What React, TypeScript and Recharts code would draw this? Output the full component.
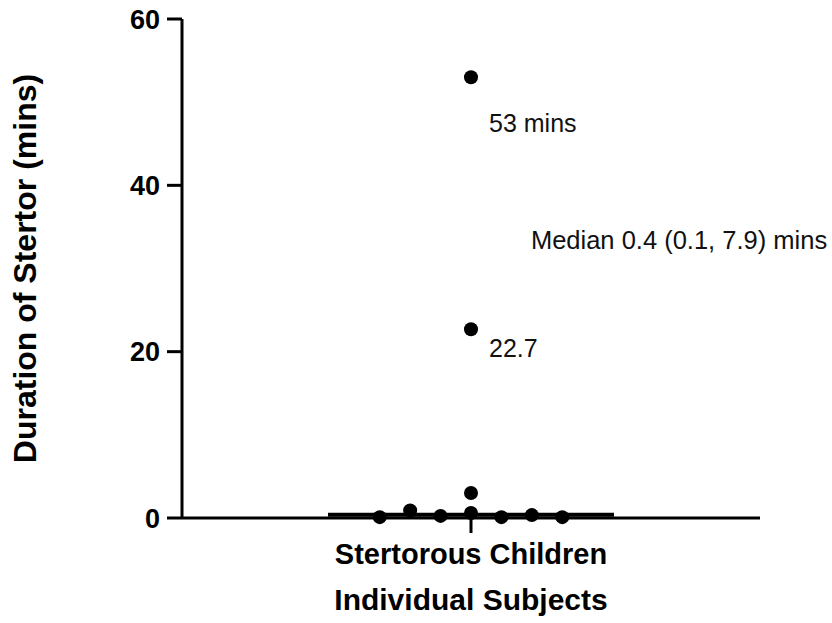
import {
  ScatterChart,
  Scatter,
  XAxis,
  YAxis,
  ReferenceLine,
  ReferenceDot,
  Label,
  LabelList,
} from "recharts";

// jitter offsets of each child along the x axis (category centre = 0)
const jitter = [-3, -2, -1, 0, 1, 2, 3, 0, 0, 0];
const durations = [0.1, 0.9, 0.25, 0.6, 0.1, 0.35, 0.1, 3.0, 22.7, 53];
const pointNotes = ["", "", "", "", "", "", "", "", "22.7", "53 mins"];
const yTicks = [0, 20, 40, 60];
const median = 0.4;
const medianText = "Median 0.4 (0.1, 7.9) mins";
const category = "Stertorous Children";

const data = durations.map((y, i) => ({ x: jitter[i], y, note: pointNotes[i] }));

const FONT = "'Liberation Sans', Arial, sans-serif";

const Dot = (p: any) => <circle cx={p.cx} cy={p.cy} r={7} fill="#000" />;

const NoteLabel = (p: any) => {
  if (!p.value) return null;
  const big = p.value.includes("mins");
  return (
    <text
      x={p.x + p.width / 2 + 18}
      y={p.y + p.height / 2 + (big ? 55 : 28)}
      fontSize={25}
      fontFamily={FONT}
      fill="#111"
    >
      {p.value}
    </text>
  );
};

export default function App() {
  return (
    <div style={{ position: "absolute", left: 0, top: 0, background: "#fff" }}>
      <ScatterChart
        width={832}
        height={623}
        margin={{ top: 19, right: 72, bottom: 0, left: 0 }}
      >
        <XAxis
          type="number"
          dataKey="x"
          domain={[-9.5, 9.5]}
          ticks={[0]}
          tickFormatter={() => category}
          tickSize={15}
          tickMargin={10}
          height={105}
          stroke="#000"
          strokeWidth={3}
          tick={{ fill: "#000", fontSize: 29, fontWeight: 700, fontFamily: FONT }}
        >
          <Label
            content={(props: any) => {
              const vb = props.viewBox;
              return (
                <text
                  x={vb.x + vb.width / 2}
                  y={610}
                  textAnchor="middle"
                  fontSize={30}
                  fontWeight={700}
                  fontFamily={FONT}
                  fill="#000"
                >
                  Individual Subjects
                </text>
              );
            }}
          />
        </XAxis>
        <YAxis
          type="number"
          dataKey="y"
          domain={[0, 60]}
          ticks={yTicks}
          width={182}
          tickSize={15}
          tickMargin={7}
          stroke="#000"
          strokeWidth={3}
          tick={{ fill: "#000", fontSize: 27, fontWeight: 700, fontFamily: FONT }}
        >
          <Label
            content={(props: any) => {
              const vb = props.viewBox;
              const cy = vb.y + vb.height / 2;
              return (
                <text
                  x={36}
                  y={cy}
                  transform={`rotate(-90 36 ${cy})`}
                  textAnchor="middle"
                  fontSize={32}
                  fontWeight={700}
                  fontFamily={FONT}
                  fill="#000"
                >
                  Duration of Stertor (mins)
                </text>
              );
            }}
          />
        </YAxis>
        <ReferenceLine
          segment={[
            { x: -4.7, y: median },
            { x: 4.7, y: median },
          ]}
          stroke="#000"
          strokeWidth={4}
        />
        <ReferenceDot
          x={1.97}
          y={32.3}
          r={0}
          fill="none"
          stroke="none"
          label={(p: any) => (
            <text x={p.viewBox.x} y={p.viewBox.y} fontSize={25.5} fontFamily={FONT} fill="#111">
              {medianText}
            </text>
          )}
        />
        <Scatter data={data} shape={Dot} isAnimationActive={false}>
          <LabelList dataKey="note" content={NoteLabel} />
        </Scatter>
      </ScatterChart>
    </div>
  );
}
